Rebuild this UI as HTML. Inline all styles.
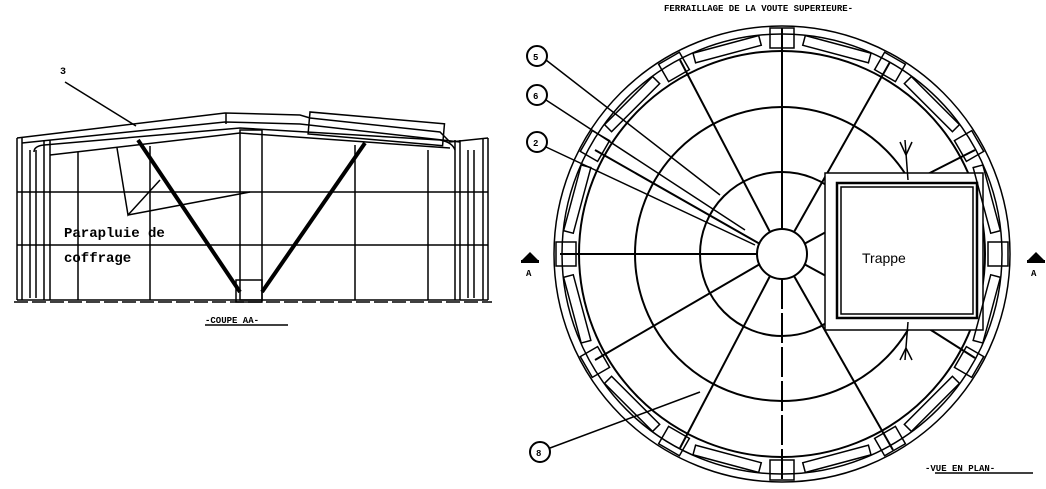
<!DOCTYPE html>
<html><head><meta charset="utf-8"><style>
html,body{margin:0;padding:0;background:#fff;}
svg{display:block}
text{font-family:"Liberation Mono",monospace;fill:#000}
</style></head><body>
<svg width="1046" height="489" viewBox="0 0 1046 489" xmlns="http://www.w3.org/2000/svg">
<g stroke="#000" fill="none" stroke-width="1.5">
<line x1="14" y1="302" x2="492" y2="302" stroke-dasharray="14,4"/>
<line x1="17" y1="138" x2="17" y2="300"/>
<line x1="22" y1="138" x2="22" y2="300"/>
<line x1="44" y1="140" x2="44" y2="300"/>
<line x1="50" y1="140" x2="50" y2="300"/>
<line x1="483" y1="138" x2="483" y2="300"/>
<line x1="488" y1="138" x2="488" y2="300"/>
<line x1="455" y1="140" x2="455" y2="300"/>
<line x1="460" y1="140" x2="460" y2="300"/>
<path d="M17 138 L225 113 L300 115 L310 118 L440 132 L450 142 L488 138"/>
<path d="M22 143 L225 122 L300 124 L460 142"/>
<path d="M34 152 Q34 146 44 145 L240 128 L440 140 Q452 142 455 150"/>
<path d="M50 155 L240 133 L450 148"/>
<rect x="310" y="112" width="135" height="22" transform="rotate(5 310 112)"/>
<line x1="226" y1="113" x2="226" y2="124"/>
<rect x="240" y="130" width="22" height="170"/>
<rect x="236" y="280" width="26" height="22"/>
<line x1="78" y1="152" x2="78" y2="300"/>
<line x1="150" y1="146" x2="150" y2="300"/>
<line x1="355" y1="145" x2="355" y2="300"/>
<line x1="428" y1="150" x2="428" y2="300"/>
<line x1="17" y1="192" x2="488" y2="192"/>
<line x1="17" y1="245" x2="488" y2="245"/>
<line x1="17" y1="300" x2="488" y2="300"/>
<line x1="30" y1="150" x2="30" y2="298"/>
<line x1="36" y1="150" x2="36" y2="298"/>
<line x1="468" y1="150" x2="468" y2="298"/>
<line x1="474" y1="150" x2="474" y2="298"/>
<line x1="138" y1="140" x2="240" y2="292" stroke-width="4"/>
<line x1="365" y1="143" x2="262" y2="292" stroke-width="4"/>
<line x1="65" y1="82" x2="136" y2="126"/>
<polyline points="117,148 128,215 160,180"/>
<line x1="128" y1="215" x2="250" y2="192"/>
<line x1="205" y1="325" x2="288" y2="325"/>
</g>
<text x="60" y="74" font-size="10" font-weight="bold">3</text>
<text x="64" y="237" font-size="14" font-weight="bold">Parapluie de</text>
<text x="64" y="262" font-size="14" font-weight="bold">coffrage</text>
<text x="205" y="323" font-size="9" font-weight="bold">-COUPE AA-</text>

<g stroke="#000" fill="none" stroke-width="1.5">
<circle cx="782" cy="254" r="228"/>
<circle cx="782" cy="254" r="220"/>
<circle cx="782" cy="254" r="203" stroke-width="2"/>
<circle cx="782" cy="254" r="147" stroke-width="2"/>
<circle cx="782" cy="254" r="82" stroke-width="2"/>
<circle cx="782" cy="254" r="25" stroke-width="2" fill="#fff"/>
<g stroke-width="2">
<line x1="782" y1="229" x2="782" y2="28"/>
<line x1="782" y1="279" x2="782" y2="480" stroke-dasharray="30,4"/>
<line x1="757" y1="254" x2="560" y2="254"/>
<line x1="770" y1="232" x2="680" y2="60"/>
<line x1="794" y1="232" x2="890" y2="62"/>
<line x1="760" y1="244" x2="595" y2="150"/>
<line x1="760" y1="264" x2="595" y2="360"/>
<line x1="770" y1="276" x2="680" y2="448"/>
<line x1="794" y1="276" x2="893" y2="450"/>
<line x1="804" y1="244" x2="837" y2="226"/>
<line x1="804" y1="264" x2="837" y2="282"/>
<line x1="912" y1="182" x2="975" y2="150"/>
<line x1="912" y1="318" x2="975" y2="358"/>
</g>
<rect x="825" y="173" width="158" height="157" fill="#fff"/>
<rect x="837" y="183" width="140" height="135" fill="#fff" stroke-width="2.5"/>
<rect x="841" y="187" width="132" height="127"/>
<line x1="905" y1="140" x2="908" y2="180"/><line x1="900" y1="142" x2="906" y2="155"/><line x1="912" y1="142" x2="906" y2="155"/>
<line x1="908" y1="322" x2="905" y2="360"/><line x1="900" y1="360" x2="906" y2="348"/><line x1="912" y1="360" x2="906" y2="348"/>
<g id="blk"><rect x="770" y="28" width="24" height="20"/></g>
<use href="#blk" transform="rotate(30 782 254)"/>
<use href="#blk" transform="rotate(60 782 254)"/>
<use href="#blk" transform="rotate(90 782 254)"/>
<use href="#blk" transform="rotate(120 782 254)"/>
<use href="#blk" transform="rotate(150 782 254)"/>
<use href="#blk" transform="rotate(180 782 254)"/>
<use href="#blk" transform="rotate(210 782 254)"/>
<use href="#blk" transform="rotate(240 782 254)"/>
<use href="#blk" transform="rotate(270 782 254)"/>
<use href="#blk" transform="rotate(300 782 254)"/>
<use href="#blk" transform="rotate(330 782 254)"/>
<g id="seg"><rect x="748" y="37" width="68" height="10" transform="rotate(15 782 254)"/></g>
<use href="#seg" transform="rotate(30 782 254)"/><use href="#seg" transform="rotate(60 782 254)"/>
<use href="#seg" transform="rotate(90 782 254)"/><use href="#seg" transform="rotate(120 782 254)"/>
<use href="#seg" transform="rotate(150 782 254)"/><use href="#seg" transform="rotate(180 782 254)"/>
<use href="#seg" transform="rotate(210 782 254)"/><use href="#seg" transform="rotate(240 782 254)"/>
<use href="#seg" transform="rotate(270 782 254)"/><use href="#seg" transform="rotate(300 782 254)"/>
<use href="#seg" transform="rotate(330 782 254)"/>
<circle cx="537" cy="56" r="10" stroke-width="2"/>
<circle cx="537" cy="95" r="10" stroke-width="2"/>
<circle cx="537" cy="142" r="10" stroke-width="2"/>
<circle cx="540" cy="452" r="10" stroke-width="2"/>
<line x1="546" y1="60" x2="720" y2="195"/>
<line x1="546" y1="100" x2="745" y2="230"/>
<line x1="546" y1="147" x2="755" y2="245"/>
<line x1="550" y1="448" x2="700" y2="392"/>
<line x1="935" y1="473" x2="1033" y2="473"/>
</g>
<path d="M522 260 L530 252 L538 260 Z"/><rect x="521" y="260" width="18" height="3"/>
<path d="M1028 260 L1036 252 L1044 260 Z"/><rect x="1027" y="260" width="18" height="3"/>
<text x="526" y="276" font-size="9" font-weight="bold">A</text>
<text x="1031" y="276" font-size="9" font-weight="bold">A</text>
<text x="533" y="60" font-size="9" font-weight="bold">5</text>
<text x="533" y="99" font-size="9" font-weight="bold">6</text>
<text x="533" y="146" font-size="9" font-weight="bold">2</text>
<text x="536" y="456" font-size="9" font-weight="bold">8</text>
<text x="862" y="263" font-size="14" style="font-family:'Liberation Sans',sans-serif">Trappe</text>
<text x="664" y="11" font-size="9" font-weight="bold">FERRAILLAGE DE LA VOUTE SUPERIEURE-</text>
<text x="925" y="471" font-size="9" font-weight="bold">-VUE EN PLAN-</text>
</svg>
</body></html>
